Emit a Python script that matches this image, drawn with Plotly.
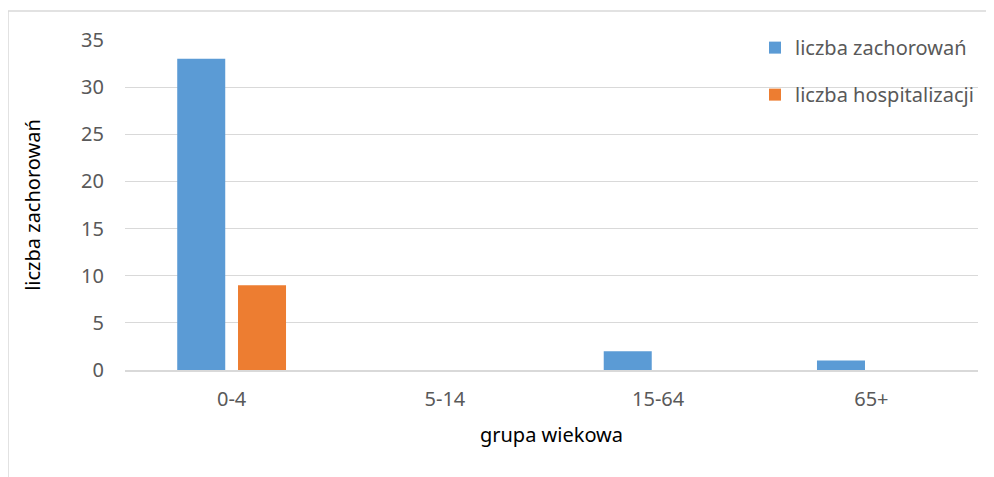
import plotly.graph_objects as go

categories = ["0-4", "5-14", "15-64", "65+"]
zachorowania = [33, 0, 2, 1]
hospitalizacje = [9, 0, 0, 0]
y_ticks = [0, 5, 10, 15, 20, 25, 30, 35]

FONT = "Noto Sans"
TXT = "#595959"

fig = go.Figure()
fig.add_trace(go.Bar(x=categories, y=zachorowania, name="liczba zachorowań",
                     marker=dict(color="#5B9BD5", line=dict(width=0)),
                     legendgroup="a"))
fig.add_trace(go.Bar(x=categories, y=hospitalizacje, name="liczba hospitalizacji",
                     marker=dict(color="#ED7D31", line=dict(width=0)),
                     legendgroup="b"))

fig.update_layout(
    width=986, height=469,
    margin=dict(l=117, r=16, t=32, b=107),
    paper_bgcolor="white", plot_bgcolor="white",
    font=dict(family=FONT, size=20, color=TXT),
    barmode="group", bargap=0.43, bargroupgap=0.21,
    showlegend=True,
    legend=dict(x=0.7386, y=1.036, xanchor="left", yanchor="top",
                font=dict(size=20, color=TXT), tracegroupgap=18,
                bgcolor="rgba(0,0,0,0)", itemwidth=30),
    xaxis=dict(
        showgrid=False, showline=True, linecolor="#d9d9d9", linewidth=2,
        ticks="", ticklabelstandoff=10,
        title=dict(text="grupa wiekowa", font=dict(size=20, color="#000000"), standoff=17),
    ),
    yaxis=dict(
        range=[0, 35], tickvals=y_ticks, showgrid=True, gridcolor="#d9d9d9", gridwidth=1,
        zeroline=False, showline=False, ticks="", ticklabelstandoff=20,
        title=dict(text="liczba zachorowań", font=dict(size=20, color="#000000"), standoff=35),
    ),
    shapes=[dict(type="rect", xref="paper", yref="paper",
                 x0=(8 - 125) / 853, x1=(1010 - 125) / 853,
                 y0=(370 - 490) / 330, y1=(370 - 11) / 330,
                 line=dict(color="#d9d9d9", width=1.5), fillcolor="rgba(0,0,0,0)",
                 layer="below")],
)

fig.write_html("out.html")
